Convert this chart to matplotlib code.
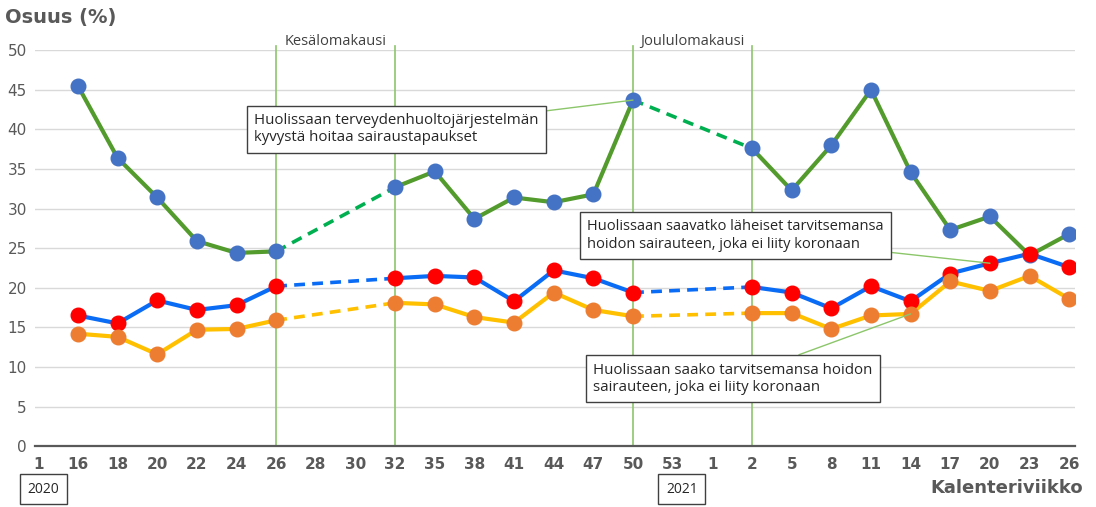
import matplotlib.pyplot as plt
import numpy as np

# input
weeks = ['1', '16', '18', '20', '22', '24', '26', '28', '30', '32', '35', '38', '41', '44',
         '47', '50', '53', '1', '2', '5', '8', '11', '14', '17', '20', '23', '26']
nan = np.nan
hoitokyky = [nan, 45.5, 36.4, 31.4, 25.9, 24.4, 24.6, nan, nan, 32.7, 34.7, 28.7, 31.4, 30.8,
             31.8, 43.7, nan, nan, 37.6, 32.3, 38.0, 45.0, 34.6, 27.3, 29.0, 24.1, 26.8]
laheiset = [nan, 16.5, 15.5, 18.4, 17.2, 17.8, 20.2, nan, nan, 21.2, 21.5, 21.3, 18.3, 22.2,
            21.2, 19.4, nan, nan, 20.1, 19.4, 17.4, 20.2, 18.3, 21.8, 23.1, 24.3, 22.6]
oma_hoito = [nan, 14.2, 13.8, 11.6, 14.7, 14.8, 15.9, nan, nan, 18.1, 17.9, 16.3, 15.6, 19.4,
             17.2, 16.4, nan, nan, 16.8, 16.8, 14.8, 16.5, 16.7, 20.8, 19.6, 21.5, 18.6]
gaps = [(6, 9), (15, 18)]          # dashed connections over holidays
holiday_lines = [6, 9, 15, 18]
holidays = [('Kesälomakausi', 7.5), ('Joululomakausi', 16.5)]
years = [('2020', -0.27), ('2021', 15.83)]

x = np.arange(len(weeks))

fig = plt.figure(figsize=(10.96, 5.07), dpi=100)
ax = fig.add_axes([0.032, 0.12, 0.949, 0.781])

series = [
    (hoitokyky, '#529B2C', '#00B050', '#4472C4'),
    (laheiset, '#0A6CF5', '#0A6CF5', '#FF0000'),
    (oma_hoito, '#FFC000', '#FFC000', '#ED7D31'),
]
for vals, lc, dc, mc in series:
    v = np.array(vals)
    ax.plot(x, v, color=lc, lw=3, zorder=3, solid_capstyle='round')
    for a, b in gaps:
        ax.plot([a, b], [v[a], v[b]], color=dc, lw=2.6, ls=(0, (3, 2)), zorder=3)
for vals, lc, dc, mc in series:
    ax.plot(x, vals, ls='none', marker='o', ms=10.5, color=mc, zorder=4)

for i in holiday_lines:
    ax.axvline(i, ymin=0, ymax=1.01, color='#8CC66A', lw=1.2, zorder=2, clip_on=False)
for name, pos in holidays:
    ax.text(pos, 50.2, name, ha='center', va='bottom', fontsize=10.5, color='#404040',
            family='Open Sans')

ax.set_xlim(-0.08, 26.15)
ax.set_ylim(0, 50)
ax.set_yticks(range(0, 51, 5))
ax.set_xticks(x)
ax.set_xticklabels(weeks, fontweight='bold', color='#595959', fontsize=11)
ax.tick_params(axis='y', labelsize=11, labelcolor='#595959', length=0, pad=6)
ax.tick_params(axis='x', length=0, pad=8)
ax.grid(axis='y', color='#D9D9D9', lw=1)
ax.set_axisbelow(True)
for s in ['top', 'right', 'left']:
    ax.spines[s].set_visible(False)
ax.spines['bottom'].set_color('#595959')
ax.spines['bottom'].set_linewidth(1.6)

fig.text(0.005, 0.965, 'Osuus (%)', fontsize=14, fontweight='bold', color='#595959', va='center')
fig.text(0.988, 0.02, 'Kalenteriviikko', fontsize=13, fontweight='bold', color='#595959',
         ha='right', va='bottom')

for yr, pos in years:
    ax.annotate(yr, xy=(pos, 0), xycoords=('data', 'axes fraction'), xytext=(0, -31),
                textcoords='offset points', ha='left', va='center', fontsize=10,
                family='Open Sans', color='#262626',
                bbox=dict(boxstyle='square,pad=0.55', fc='white', ec='#404040', lw=1))

box = dict(boxstyle='square,pad=0.5', fc='white', ec='#404040', lw=1)
leader = dict(arrowstyle='-', color='#8CC66A', lw=1, shrinkA=0, shrinkB=0)
ax.annotate('Huolissaan terveydenhuoltojärjestelmän\nkyvystä hoitaa sairaustapaukset',
            xy=(15, hoitokyky[15]), xytext=(5.45, 40.0), fontsize=10.8, family='Open Sans',
            color='#262626', va='center', ha='left', bbox=box, arrowprops=leader, zorder=5)
ax.annotate('Huolissaan saavatko läheiset tarvitsemansa\nhoidon sairauteen, joka ei liity koronaan',
            xy=(24, laheiset[24]), xytext=(13.85, 26.6), fontsize=10.5, family='Open Sans',
            color='#262626', va='center', ha='left', bbox=box, arrowprops=leader, zorder=5)
ax.annotate('Huolissaan saako tarvitsemansa hoidon\nsairauteen, joka ei liity koronaan',
            xy=(22, oma_hoito[22]), xytext=(14.0, 8.5), fontsize=10.8, family='Open Sans',
            color='#262626', va='center', ha='left', bbox=box, arrowprops=leader, zorder=5)

plt.savefig('out.png', dpi=100)
